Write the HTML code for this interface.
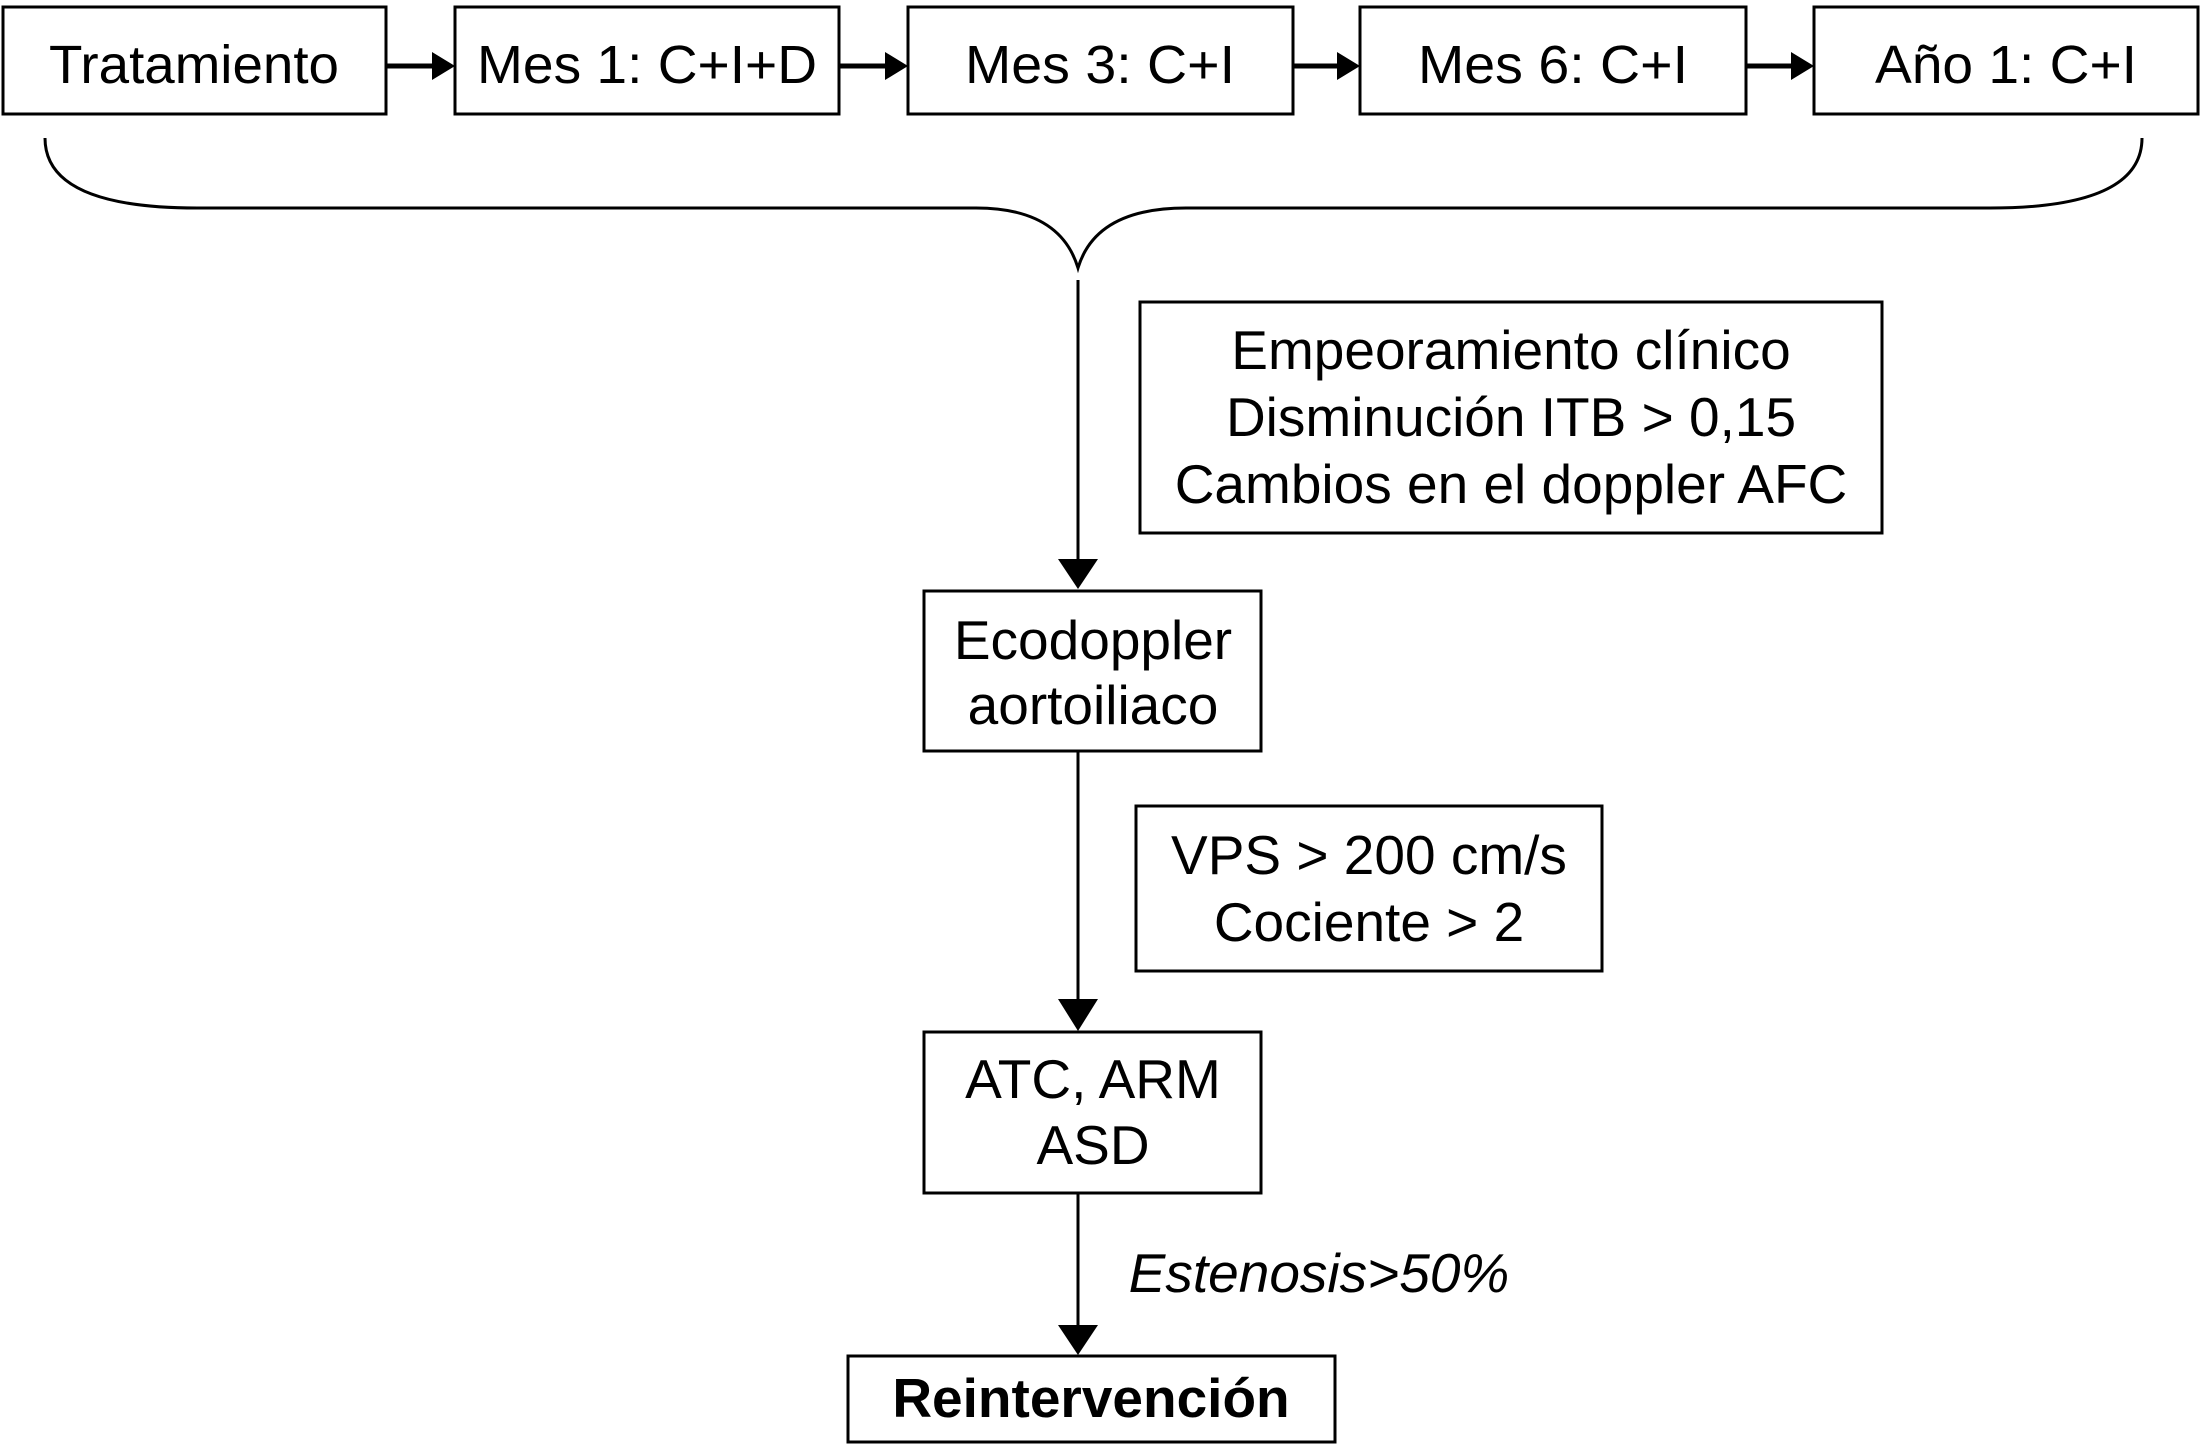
<!DOCTYPE html>
<html><head><meta charset="utf-8"><style>
body{margin:0;background:#fff;}
svg text{font-family:"Liberation Sans",Arial,sans-serif;fill:#000;}
</style></head><body>
<svg width="2201" height="1444" viewBox="0 0 2201 1444" xmlns="http://www.w3.org/2000/svg">
<g fill="none" stroke="#000" stroke-width="3">
<rect x="3" y="7" width="383" height="107"/>
<rect x="455" y="7" width="384" height="107"/>
<rect x="908" y="7" width="385" height="107"/>
<rect x="1360" y="7" width="386" height="107"/>
<rect x="1814" y="7" width="384" height="107"/>
<rect x="1140" y="302" width="742" height="231"/>
<rect x="924" y="591" width="337" height="160"/>
<rect x="1136" y="806" width="466" height="165"/>
<rect x="924" y="1032" width="337" height="161"/>
<rect x="848" y="1356" width="487" height="86"/>
<path d="M45,138 Q45,208 197,208 L976,208 Q1060,208 1078,268 Q1096,208 1186,208 L1990,208 Q2142,208 2142,138"/>
<line x1="1078" y1="280" x2="1078" y2="562"/>
<line x1="1078" y1="751" x2="1078" y2="1002"/>
<line x1="1078" y1="1193" x2="1078" y2="1328"/>
</g>
<g stroke="#000" stroke-width="5">
<line x1="386" y1="66" x2="440" y2="66"/>
<line x1="839" y1="66" x2="893" y2="66"/>
<line x1="1293" y1="66" x2="1345" y2="66"/>
<line x1="1746" y1="66" x2="1799" y2="66"/>
</g>
<g fill="#000">
<path d="M1058,559 L1098,559 L1078,589z"/>
<path d="M1058,999 L1098,999 L1078,1031z"/>
<path d="M1058,1325 L1098,1325 L1078,1355z"/>
<path d="M432,52 L455,66 L432,80z"/>
<path d="M885,52 L908,66 L885,80z"/>
<path d="M1337,52 L1360,66 L1337,80z"/>
<path d="M1791,52 L1814,66 L1791,80z"/>
</g>
<g font-size="54" text-anchor="middle">
<text x="194" y="83" textLength="290" lengthAdjust="spacingAndGlyphs">Tratamiento</text>
<text x="647" y="83" textLength="340" lengthAdjust="spacingAndGlyphs">Mes 1: C+I+D</text>
<text x="1100" y="83" textLength="270" lengthAdjust="spacingAndGlyphs">Mes 3: C+I</text>
<text x="1553" y="83" textLength="270" lengthAdjust="spacingAndGlyphs">Mes 6: C+I</text>
<text x="2006" y="83" textLength="262" lengthAdjust="spacingAndGlyphs">Año 1: C+I</text>
</g>
<g font-size="55" text-anchor="middle">
<text x="1511" y="369">Empeoramiento clínico</text>
<text x="1511" y="436">Disminución ITB &gt; 0,15</text>
<text x="1511" y="503">Cambios en el doppler AFC</text>
<text x="1093" y="659">Ecodoppler</text>
<text x="1093" y="724">aortoiliaco</text>
<text x="1369" y="874">VPS &gt; 200 cm/s</text>
<text x="1369" y="941">Cociente &gt; 2</text>
<text x="1093" y="1098">ATC, ARM</text>
<text x="1093" y="1164">ASD</text>
<text x="1091" y="1417" font-weight="bold">Reintervención</text>
<text x="1319" y="1292" font-style="italic">Estenosis&gt;50%</text>
</g>
</svg>
</body></html>
